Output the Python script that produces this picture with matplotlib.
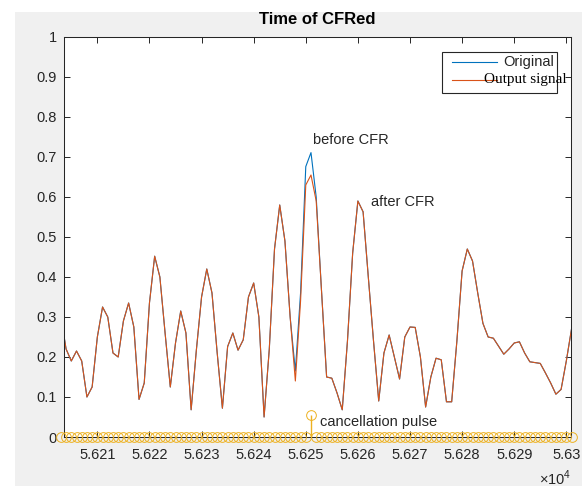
import numpy as np
import matplotlib.pyplot as plt
from matplotlib.patches import Rectangle
from matplotlib.lines import Line2D

plt.rcParams['font.family'] = ['Liberation Sans', 'DejaVu Sans']
plt.rcParams['mathtext.fontset'] = 'custom'
plt.rcParams['mathtext.rm'] = 'Liberation Sans'

# Sample index range shown on the time axis
t_start, t_stop = 56203, 56301

# Output signal magnitude (after CFR), one value per sample
output_sig = [
    0.30, 0.22, 0.19, 0.215, 0.19, 0.10, 0.125, 0.25, 0.325, 0.30,
    0.21, 0.20, 0.29, 0.335, 0.275, 0.094, 0.135, 0.335, 0.452, 0.40,
    0.26, 0.125, 0.235, 0.315, 0.26, 0.068, 0.217, 0.35, 0.42, 0.36,
    0.21, 0.072, 0.226, 0.26, 0.217, 0.243, 0.35, 0.385, 0.30, 0.05,
    0.22, 0.47, 0.58, 0.49, 0.30, 0.14, 0.34, 0.63, 0.655, 0.59,
    0.37, 0.15, 0.147, 0.11, 0.068, 0.24, 0.46, 0.59, 0.563, 0.40,
    0.24, 0.09, 0.21, 0.255, 0.20, 0.145, 0.25, 0.275, 0.274, 0.20,
    0.075, 0.15, 0.197, 0.193, 0.088, 0.088, 0.24, 0.415, 0.47, 0.44,
    0.36, 0.284, 0.25, 0.247, 0.227, 0.207, 0.22, 0.235, 0.238, 0.21,
    0.188, 0.186, 0.184, 0.16, 0.135, 0.107, 0.119, 0.19, 0.27,
]

# Original signal only differs from the output around the clipped peak
orig_peak_idx = [56248, 56249, 56250, 56251, 56252]
orig_peak_val = [0.165, 0.36, 0.676, 0.711, 0.60]

# Cancellation pulse: single nonzero sample at the peak
pulse_idx = 56251
pulse_val = 0.055

t = np.arange(t_start, t_stop + 1)
out = np.array(output_sig)
orig = out.copy()
orig[np.searchsorted(t, orig_peak_idx)] = orig_peak_val
pulse = np.zeros_like(out)
pulse[t == pulse_idx] = pulse_val

xticks = np.arange(56210, 56301, 10)
yticks = np.round(np.arange(0, 1.01, 0.1), 1)

fig = plt.figure(figsize=(5.82, 4.86), dpi=100)
fig.patch.set_facecolor('white')
fig.patches.append(Rectangle((15 / 582, 0), 1 - 15 / 582, 1 - 12 / 486,
                             transform=fig.transFigure, facecolor='#f0f0f0',
                             edgecolor='none', zorder=-10))

ax = fig.add_axes([64 / 582, 49 / 486, 507 / 582, 400 / 486])
ax.set_facecolor('white')

ax.plot(t, orig, color='#0072BD', lw=0.8)
ax.plot(t, out, color='#D95319', lw=0.8)

ax.vlines(t, 0, pulse, color='#EDB120', lw=1.0)
ax.plot(t, pulse, 'o', color='#EDB120', mfc='none', ms=7, mew=0.7, clip_on=False, zorder=5)

ax.set_xlim(56203.6, 56300.9)
ax.set_ylim(0, 1)

ax.set_xticks(xticks)
ax.set_xticklabels([f'{v / 1e4:g}' for v in xticks])
ax.set_yticks(yticks)
ax.set_yticklabels([f'{v:g}' for v in yticks])
ax.tick_params(direction='in', length=4, width=0.7, colors='#262626',
               labelsize=10.5, top=True, right=True)
ax.tick_params(axis='x', pad=8)
ax.tick_params(axis='y', pad=5)
for s in ax.spines.values():
    s.set_color('#262626')
    s.set_linewidth(0.75)

ax.text(1.0, -0.078, r'$\times10^{4}$', transform=ax.transAxes, ha='right', va='top',
        fontsize=10.5, color='#262626')

ax.set_title('Time of CFRed', fontsize=12, fontweight='bold', color='black', pad=9)

# annotations
ax.text(56251.4, 0.7425, 'before CFR', fontsize=10.5, color='#262626', va='center')
ax.text(56262.5, 0.5875, 'after CFR', fontsize=10.5, color='#262626', va='center')
ax.text(56252.7, 0.038, 'cancellation pulse', fontsize=10.5, color='#262626', va='center')

# legend box
ax.add_patch(Rectangle((0.7456, 0.86), 0.2268, 0.1025, transform=ax.transAxes,
                       facecolor='white', edgecolor='#262626', lw=0.8, zorder=6))
ax.add_line(Line2D([0.765, 0.854], [0.9375, 0.9375], transform=ax.transAxes,
                   color='#0072BD', lw=0.8, zorder=7))
ax.add_line(Line2D([0.765, 0.854], [0.8925, 0.8925], transform=ax.transAxes,
                   color='#D95319', lw=0.8, zorder=7))
ax.text(0.866, 0.9375, 'Original', transform=ax.transAxes, fontsize=10.5,
        color='#262626', va='center', zorder=8)
ax.text(0.828, 0.8925, 'Output signal', transform=ax.transAxes, fontsize=11,
        family=['Liberation Serif'], color='black', va='center', zorder=8)

fig.savefig('out.png', dpi=100, facecolor=fig.get_facecolor())
